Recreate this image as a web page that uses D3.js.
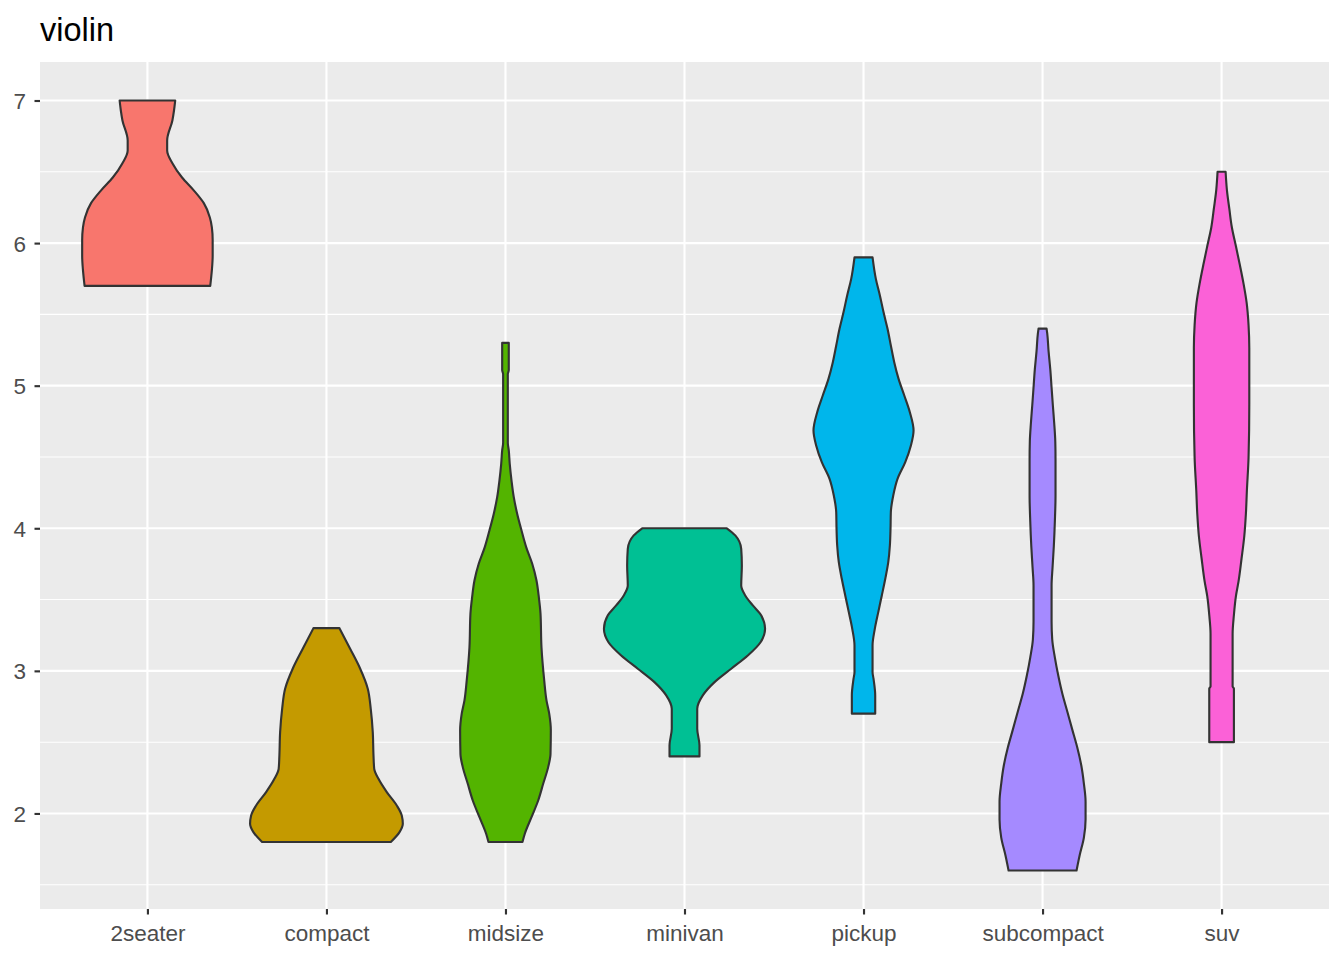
<!DOCTYPE html>
<html>
<head>
<meta charset="utf-8">
<script src="https://cdn.jsdelivr.net/npm/d3@7"></script>
<style>
  body { margin: 0; background: #fff; }
  text { font-family: "Liberation Sans", Arial, sans-serif; }
</style>
</head>
<body>
<svg width="1344" height="960"></svg>
<script>
// violin profiles: [displ, width as share of the widest violin]
var classes = ["2seater", "compact", "midsize", "minivan", "pickup", "subcompact", "suv"];
var colors = ["#F8766D", "#C49A00", "#53B400", "#00C094", "#00B6EB", "#A58AFF", "#FB61D7"];
var yTicks = [2, 3, 4, 5, 6, 7];
var yMinor = [1.5, 2.5, 3.5, 4.5, 5.5, 6.5];

var p2seater = [[7.00, 0.345], [6.93, 0.33], [6.86, 0.31], [6.72, 0.245], [6.65, 0.245], [6.56, 0.31],
  [6.46, 0.43], [6.37, 0.575], [6.28, 0.70], [6.18, 0.775], [6.11, 0.80], [6.02, 0.81],
  [5.91, 0.81], [5.81, 0.80], [5.70, 0.78]];
var pCompact = [[3.30, 0.161], [3.155, 0.294], [3.015, 0.419], [2.875, 0.513], [2.734, 0.55],
  [2.57, 0.575], [2.407, 0.584], [2.313, 0.593], [2.243, 0.646], [2.15, 0.749], [2.056, 0.873],
  [1.986, 0.935], [1.928, 0.948], [1.869, 0.907], [1.80, 0.799]];
var pMidsize = [[5.30, 0.041], [5.11, 0.041], [5.08, 0.029], [4.60, 0.029], [4.546, 0.041],
  [4.452, 0.053], [4.335, 0.075], [4.218, 0.103], [4.102, 0.145], [3.985, 0.199], [3.868, 0.257],
  [3.751, 0.332], [3.634, 0.385], [3.517, 0.414], [3.40, 0.435], [3.166, 0.447], [2.933, 0.481],
  [2.793, 0.509], [2.70, 0.543], [2.582, 0.563], [2.418, 0.559], [2.325, 0.53], [2.208, 0.468],
  [2.091, 0.406], [1.974, 0.323], [1.858, 0.24], [1.80, 0.211]];
var pMinivan = [[4.00, 0.525], [3.95, 0.63], [3.856, 0.704], [3.739, 0.712], [3.599, 0.704],
  [3.529, 0.754], [3.459, 0.848], [3.389, 0.953], [3.295, 1.0], [3.201, 0.944], [3.108, 0.786],
  [3.015, 0.58], [2.921, 0.373], [2.828, 0.227], [2.734, 0.158], [2.594, 0.158], [2.477, 0.186],
  [2.40, 0.186]];
var pPickup = [[5.90, 0.112], [5.749, 0.153], [5.633, 0.203], [5.516, 0.248], [5.399, 0.298],
  [5.282, 0.339], [5.165, 0.381], [5.048, 0.435], [4.931, 0.506], [4.814, 0.575], [4.686, 0.621],
  [4.581, 0.588], [4.464, 0.518], [4.347, 0.422], [4.23, 0.369], [4.113, 0.339], [3.996, 0.335],
  [3.879, 0.327], [3.762, 0.307], [3.646, 0.27], [3.529, 0.227], [3.412, 0.183], [3.295, 0.14],
  [3.178, 0.112], [2.991, 0.112], [2.945, 0.124], [2.828, 0.145], [2.70, 0.145]];
var pSubcompact = [[5.40, 0.05], [5.366, 0.058], [5.24, 0.075], [5.114, 0.096], [4.987, 0.112],
  [4.861, 0.128], [4.735, 0.145], [4.609, 0.158], [4.482, 0.161], [4.23, 0.161], [4.053, 0.153],
  [3.876, 0.14], [3.725, 0.124], [3.598, 0.112], [3.346, 0.112], [3.22, 0.12], [3.093, 0.153],
  [2.967, 0.195], [2.841, 0.245], [2.715, 0.307], [2.588, 0.369], [2.462, 0.431], [2.336, 0.481],
  [2.21, 0.513], [2.083, 0.534], [1.957, 0.534], [1.831, 0.513], [1.705, 0.46], [1.60, 0.422]];
var pSuv = [[6.50, 0.05], [6.373, 0.066], [6.241, 0.096], [6.109, 0.128], [5.978, 0.178],
  [5.846, 0.227], [5.714, 0.273], [5.582, 0.311], [5.423, 0.335], [5.265, 0.344], [4.87, 0.344],
  [4.50, 0.335], [4.263, 0.314], [4.104, 0.302], [3.946, 0.282], [3.788, 0.248], [3.629, 0.211],
  [3.524, 0.178], [3.392, 0.153], [3.26, 0.137], [2.891, 0.137], [2.877, 0.153], [2.50, 0.153]];

var profiles = [p2seater, pCompact, pMidsize, pMinivan, pPickup, pSubcompact, pSuv];

var svg = d3.select("svg");
var panelL = 40, panelR = 1329, panelT = 62, panelB = 909;

var x = d3.scalePoint().domain(classes).range([panelL, panelR]).padding(0.6);
var y = d3.scaleLinear().domain([1.33, 7.27]).range([panelB, panelT]);
var halfW = x.step() * 0.45;

svg.append("rect")
  .attr("x", panelL).attr("y", panelT)
  .attr("width", panelR - panelL).attr("height", panelB - panelT)
  .attr("fill", "#EBEBEB");

svg.selectAll(".minor")
  .data(yMinor)
  .enter().append("line")
  .attr("x1", panelL).attr("x2", panelR)
  .attr("y1", d => y(d)).attr("y2", d => y(d))
  .attr("stroke", "#fff").attr("stroke-width", 1.07);

svg.selectAll(".major")
  .data(yTicks)
  .enter().append("line")
  .attr("x1", panelL).attr("x2", panelR)
  .attr("y1", d => y(d)).attr("y2", d => y(d))
  .attr("stroke", "#fff").attr("stroke-width", 2.13);

svg.selectAll(".vgrid")
  .data(classes)
  .enter().append("line")
  .attr("x1", d => x(d)).attr("x2", d => x(d))
  .attr("y1", panelT).attr("y2", panelB)
  .attr("stroke", "#fff").attr("stroke-width", 2.13);

var area = d3.area()
  .curve(d3.curveMonotoneY)
  .y(d => y(d[0]));

svg.selectAll(".violin")
  .data(classes)
  .enter().append("path")
  .attr("d", (c, i) => area
    .x0(d => x(c) - d[1] * halfW)
    .x1(d => x(c) + d[1] * halfW)(profiles[i]))
  .attr("fill", (c, i) => colors[i])
  .attr("stroke", "#333333")
  .attr("stroke-width", 2.13)
  .attr("stroke-linejoin", "round");

// axes
var xAxis = svg.append("g")
  .attr("transform", "translate(0," + panelB + ")")
  .call(d3.axisBottom(x).tickSize(5.5).tickPadding(11));
var yAxis = svg.append("g")
  .attr("transform", "translate(" + panelL + ",0)")
  .call(d3.axisLeft(y).tickValues(yTicks).tickFormat(d3.format("d")).tickSize(5.5).tickPadding(8.5));

[xAxis, yAxis].forEach(function (g) {
  g.select(".domain").remove();
  g.selectAll(".tick line").attr("stroke", "#333333").attr("stroke-width", 2.13);
  g.selectAll(".tick text")
    .attr("fill", "#4D4D4D")
    .style("font-size", "22.5px")
    .style("font-family", "'Liberation Sans', Arial, sans-serif");
});
yAxis.selectAll(".tick text").attr("dy", "0.36em");

svg.append("text")
  .attr("x", 40).attr("y", 41)
  .attr("fill", "#000")
  .style("font-size", "32.5px")
  .text("violin");
</script>
</body>
</html>
